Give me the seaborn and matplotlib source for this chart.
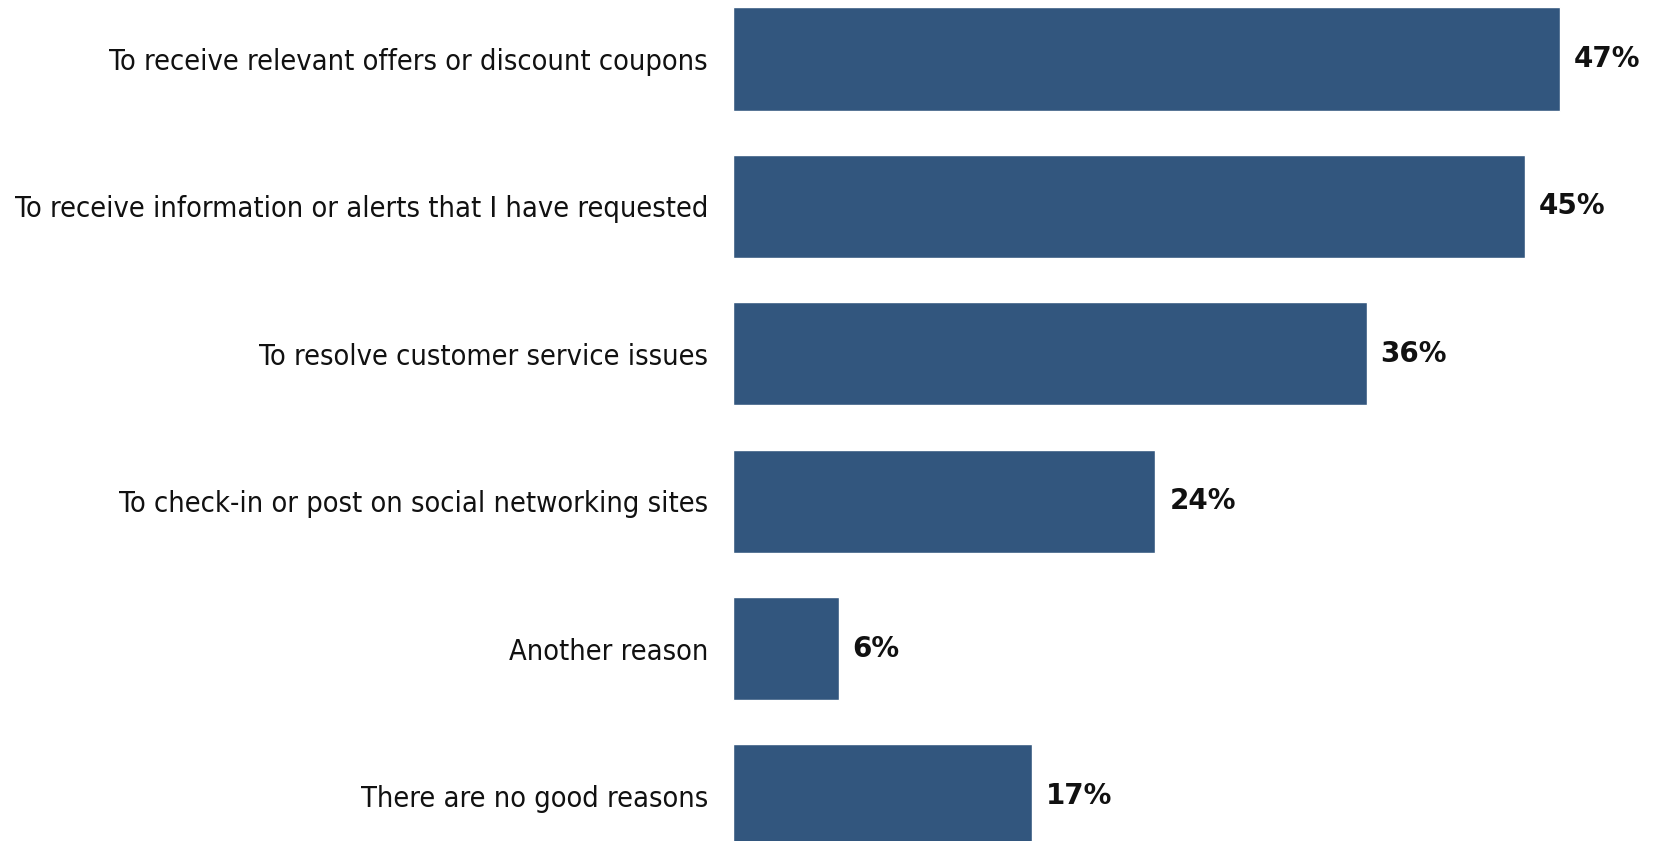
import matplotlib
matplotlib.use('Agg')
import matplotlib.pyplot as plt
import seaborn as sns
import pandas as pd

# Survey answers, top to bottom
REASONS = [
    "To receive relevant offers or discount coupons",
    "To receive information or alerts that I have requested",
    "To resolve customer service issues",
    "To check-in or post on social networking sites",
    "Another reason",
    "There are no good reasons",
]
PERCENTS = [47, 45, 36, 24, 6, 17]

BAR_COLOR = '#32567e'

sns.set_theme(style='white')
plt.rcParams['font.family'] = ['DejaVu Sans']

df = pd.DataFrame({'reason': REASONS, 'pct': PERCENTS})

fig = plt.figure(figsize=(16.59, 8.41), dpi=100)
ax = fig.add_axes([733 / 1659, 0, 1 - 733 / 1659, 1])

sns.barplot(data=df, x='pct', y='reason', orient='h', color=BAR_COLOR,
            width=0.7, saturation=1, ax=ax)

# value labels at the end of every bar
for container in ax.containers:
    ax.bar_label(container, labels=[f'{v}%' for v in PERCENTS], padding=10,
                 fontsize=20, fontweight='bold', color='#111111')

ax.set_xlim(0, (1659 - 733) / 17.6)
ax.set_ylim(5.305, -0.40)
ax.set_xlabel('')
ax.set_ylabel('')
ax.set_xticks([])
ax.tick_params(axis='y', length=0, pad=18, labelsize=20.8, labelcolor='#111111')
for lbl in ax.get_yticklabels():
    lbl.set_fontstretch('condensed')
sns.despine(ax=ax, left=True, bottom=True)

plt.savefig('out.png', dpi=100)
